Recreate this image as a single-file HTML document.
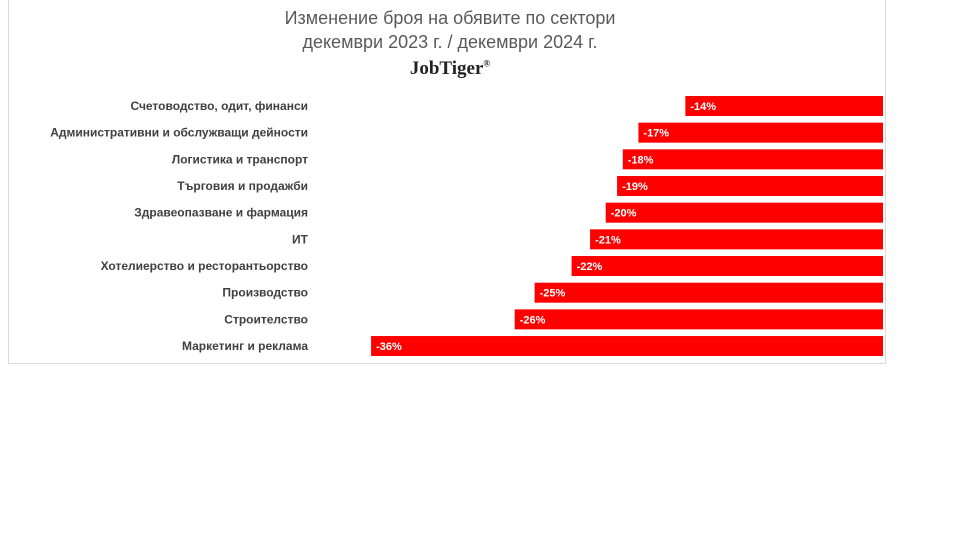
<!DOCTYPE html>
<html><head><meta charset="utf-8"><style>
body{margin:0;background:#fff;width:958px;height:539px;overflow:hidden;font-family:"Liberation Sans",sans-serif}
#frame{position:absolute;left:8px;top:-1px;width:878px;height:365px;border:1px solid #d9d9d9;box-sizing:border-box}
.t{position:absolute;left:250px;width:400px;text-align:center;color:#595959;font-size:18px}
</style></head><body>
<div id="frame"></div>
<div class="t" style="top:8px">Изменение броя на обявите по сектори</div>
<div class="t" style="top:32px">декември 2023 г. / декември 2024 г.</div>
<div class="t" style="top:58px;font-family:'Liberation Serif',serif;font-weight:bold;color:#222;font-size:19px">JobTiger<sup style="font-size:9px">®</sup></div>
<svg id="c" width="958" height="539" style="position:absolute;left:0;top:0"></svg>
<script>
const categories=["Счетоводство, одит, финанси","Административни и обслужващи дейности","Логистика и транспорт","Търговия и продажби","Здравеопазване и фармация","ИТ","Хотелиерство и ресторантьорство","Производство","Строителство","Маркетинг и реклама"];
const values=[-13.9,-17.2,-18.3,-18.7,-19.5,-20.6,-21.9,-24.5,-25.9,-36];
const valueLabels=["-14%","-17%","-18%","-19%","-20%","-21%","-22%","-25%","-26%","-36%"];
const svg=document.getElementById('c'),NS='http://www.w3.org/2000/svg';
const x0=883,pxPer=14.22;
const xs=v=>x0+v*pxPer;
const yc=i=>106+i*26.67;
categories.forEach((c,i)=>{
  const r=document.createElementNS(NS,'rect');
  
  
  const xl=xs(values[i]);
  r.setAttribute('x',xl);r.setAttribute('y',yc(i)-10);r.setAttribute('width',x0-xl);r.setAttribute('height',20);r.setAttribute('fill','#ff0000');
  svg.appendChild(r);
  const t=document.createElementNS(NS,'text');
  
  
  t.setAttribute('x',308);t.setAttribute('y',yc(i)+4);t.setAttribute('text-anchor','end');
  t.setAttribute('font-size','12');t.setAttribute('font-weight','bold');t.setAttribute('fill','#404040');
  t.setAttribute('textLength',c.length*6.6>0?'':'');
  t.removeAttribute('textLength');
  t.textContent=c;svg.appendChild(t);
  const v=document.createElementNS(NS,'text');
  
  
  v.setAttribute('x',xl+5);v.setAttribute('y',yc(i)+4);
  v.setAttribute('font-size','11');v.setAttribute('font-weight','bold');v.setAttribute('fill','#fff');
  v.textContent=valueLabels[i];svg.appendChild(v);
});
</script>
</body></html>
